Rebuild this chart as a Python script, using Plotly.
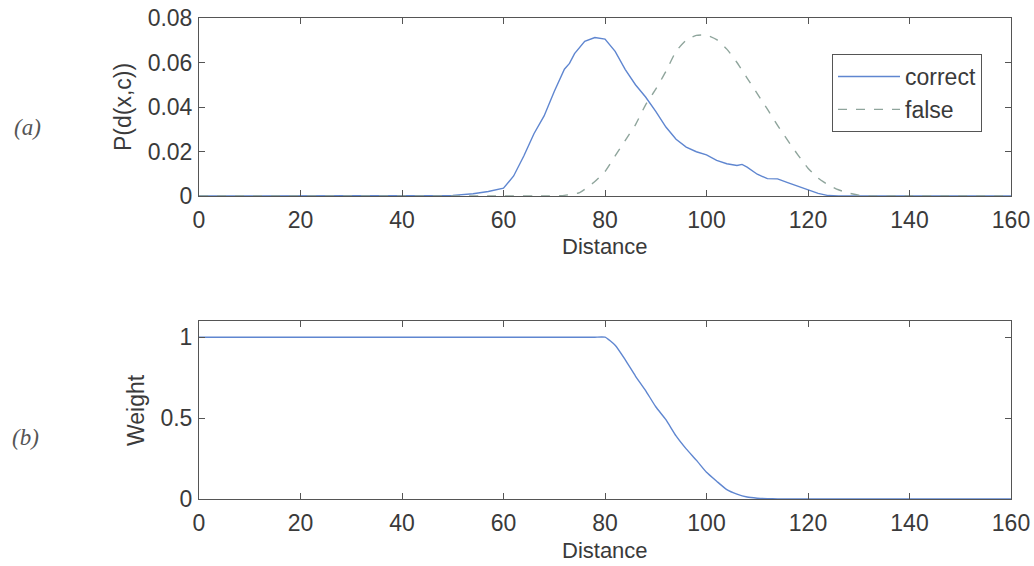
import plotly.graph_objects as go

# Panel (a): distance distributions for correct and false matches
correct_x = [0, 45, 50, 54, 57, 60, 62, 64, 66, 68, 70, 72, 73, 74, 76, 78, 80, 82, 84, 86, 88, 90,
             92, 94, 96, 98, 100, 102, 104, 106, 107, 108, 110, 112, 114, 116, 118, 120, 122, 124, 126, 160]
correct_y = [0, 0, 0.0003, 0.001, 0.002, 0.0035, 0.009, 0.018, 0.028, 0.036, 0.047, 0.057, 0.0596, 0.064,
             0.0695, 0.0712, 0.0705, 0.065, 0.0568, 0.050, 0.0445, 0.038, 0.031, 0.0255, 0.022, 0.0199,
             0.0185, 0.016, 0.0145, 0.0137, 0.0142, 0.013, 0.0098, 0.0078, 0.0077, 0.006, 0.0045, 0.003,
             0.0012, 0.0002, 0, 0]

false_x = [0, 40, 60, 68, 72, 75, 78, 80, 82, 84, 86, 88, 90, 92, 94, 96, 98, 100, 102, 104, 106, 108, 110,
           112, 114, 116, 118, 120, 122, 124, 126, 128, 130, 132, 140, 160]
false_y = [0, 0, 0, 0, 0.0003, 0.0015, 0.0065, 0.011, 0.018, 0.025, 0.032, 0.041, 0.048, 0.056, 0.065, 0.070,
           0.0722, 0.0723, 0.0703, 0.066, 0.060, 0.053, 0.046, 0.039, 0.0317, 0.025, 0.0185, 0.0125,
           0.008, 0.005, 0.0028, 0.0013, 0.0004, 0, 0, 0]

# Panel (b): weighting function over distance
weight_x = [0, 20, 40, 60, 70, 76, 78, 80, 82, 84, 86, 88, 90, 92, 94, 96, 98, 100, 102, 104, 106, 108,
            110, 112, 114, 116, 118, 120, 130, 140, 150, 160]
weight_y = [1, 1, 1, 1, 1, 1, 1, 1, 0.95, 0.86, 0.76, 0.67, 0.57, 0.49, 0.39, 0.31, 0.24, 0.165, 0.11,
            0.058, 0.03, 0.012, 0.005, 0.002, 0.001, 0.0005, 0, 0, 0, 0, 0, 0]

x_ticks = [0, 20, 40, 60, 80, 100, 120, 140, 160]
p_ticks = [0, 0.02, 0.04, 0.06, 0.08]
p_tick_text = ["0", "0.02", "0.04", "0.06", "0.08"]
w_ticks = [0, 0.5, 1]
w_tick_text = ["0", "0.5", "1"]

W, H = 1034, 566
FONT = "Liberation Sans, Arial, sans-serif"
AX = "#555555"
TXT = "#3a3a3a"
BLUE = "#5f86d0"
DASH = "#8fa59c"

def px(x):
    return x / W

def py(y):
    return 1 - y / H

fig = go.Figure()
fig.add_trace(go.Scatter(x=correct_x, y=correct_y, mode="lines", name="correct",
                         line=dict(color=BLUE, width=1.4), xaxis="x", yaxis="y"))
fig.add_trace(go.Scatter(x=false_x, y=false_y, mode="lines", name="false",
                         line=dict(color=DASH, width=1.4, dash="dash", shape="spline", smoothing=0.5),
                         xaxis="x", yaxis="y"))
fig.add_trace(go.Scatter(x=weight_x, y=weight_y, mode="lines", name="weight", showlegend=False,
                         line=dict(color=BLUE, width=1.4, shape="spline", smoothing=0.5),
                         xaxis="x2", yaxis="y2"))

axis_common = dict(showgrid=False, zeroline=False, showline=True, linecolor=AX, linewidth=1,
                   mirror="allticks", ticks="inside", ticklen=6, tickcolor=AX, tickwidth=1,
                   automargin=False, tickfont=dict(family=FONT, size=23, color=TXT))

fig.update_layout(
    template="none",
    width=W, height=H,
    margin=dict(l=0, r=0, t=0, b=0, pad=0, autoexpand=False),
    paper_bgcolor="white", plot_bgcolor="white",
    xaxis=dict(domain=[px(199), px(1011)], range=[0, 160], tickvals=x_ticks, anchor="y",
               ticklabelstandoff=3, **axis_common),
    yaxis=dict(domain=[py(196), py(18)], range=[0, 0.08], tickvals=p_ticks, ticktext=p_tick_text,
               anchor="x", ticklabelstandoff=1, **axis_common),
    xaxis2=dict(domain=[px(199), px(1011)], range=[0, 160], tickvals=x_ticks, anchor="y2",
                ticklabelstandoff=3, **axis_common),
    yaxis2=dict(domain=[py(499), py(321)], range=[0, 1.1], tickvals=w_ticks, ticktext=w_tick_text,
                anchor="x2", ticklabelstandoff=1, **axis_common),
    legend=dict(x=px(832), y=py(54), xanchor="left", yanchor="top",
                bordercolor=AX, borderwidth=1, bgcolor="white",
                font=dict(family=FONT, size=23, color=TXT), itemwidth=62,
                tracegroupgap=0),
    showlegend=True,
)

def label(text, x, y, size=22, angle=0, family=FONT, color=TXT):
    return dict(text=text, x=px(x), y=py(y), xref="paper", yref="paper", showarrow=False,
                xanchor="center", yanchor="middle", textangle=angle,
                font=dict(family=family, size=size, color=color))

annotations = [
    label("Distance", 605, 246),
    label("Distance", 605, 550),
    label("P(d(x,c))", 123, 107, size=23, angle=-90),
    label("Weight", 136, 410, size=23, angle=-90),
    label("<i>(a)</i>", 27, 127, size=23, family="Liberation Serif, serif", color="#555555"),
    label("<i>(b)</i>", 25, 437, size=23, family="Liberation Serif, serif", color="#555555"),
]
fig.update_layout(annotations=annotations)

fig.write_html("out.html")
